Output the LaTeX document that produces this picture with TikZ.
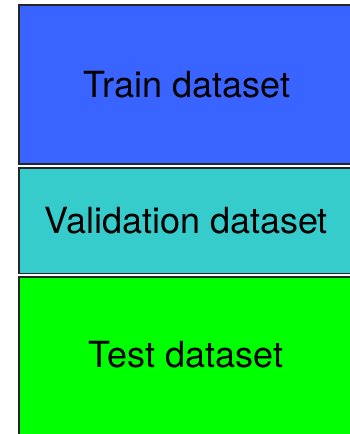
\documentclass[tikz,border=0pt]{standalone}
\usepackage{fontspec}
\setmainfont{TeX Gyre Heros}
\definecolor{trainblue}{HTML}{3A64FF}
\definecolor{valcyan}{HTML}{36CCCB}
\definecolor{testgreen}{HTML}{00FF00}
\begin{document}
\begin{tikzpicture}[x=1pt,y=-1pt,
  part/.style={draw=black!85, line width=1.6pt},
  lbl/.style={font=\fontsize{36}{42}\selectfont, text=black}]
\useasboundingbox (0,0) rectangle (350,434);
\clip (0,0) rectangle (350,434);
\fill[white] (0,0) rectangle (350,434);
\draw[part, fill=trainblue] (19,5) rectangle (356,164);
\draw[part, fill=valcyan] (19,168) rectangle (356,273.5);
\draw[part, fill=testgreen] (19,277) rectangle (356,445);
\node[lbl] (train) at (187,85) {Train dataset};
\node[lbl] (val) at (186,221) {Validation dataset};
\node[lbl] (test) at (186,355) {Test dataset};
\end{tikzpicture}
\end{document}
